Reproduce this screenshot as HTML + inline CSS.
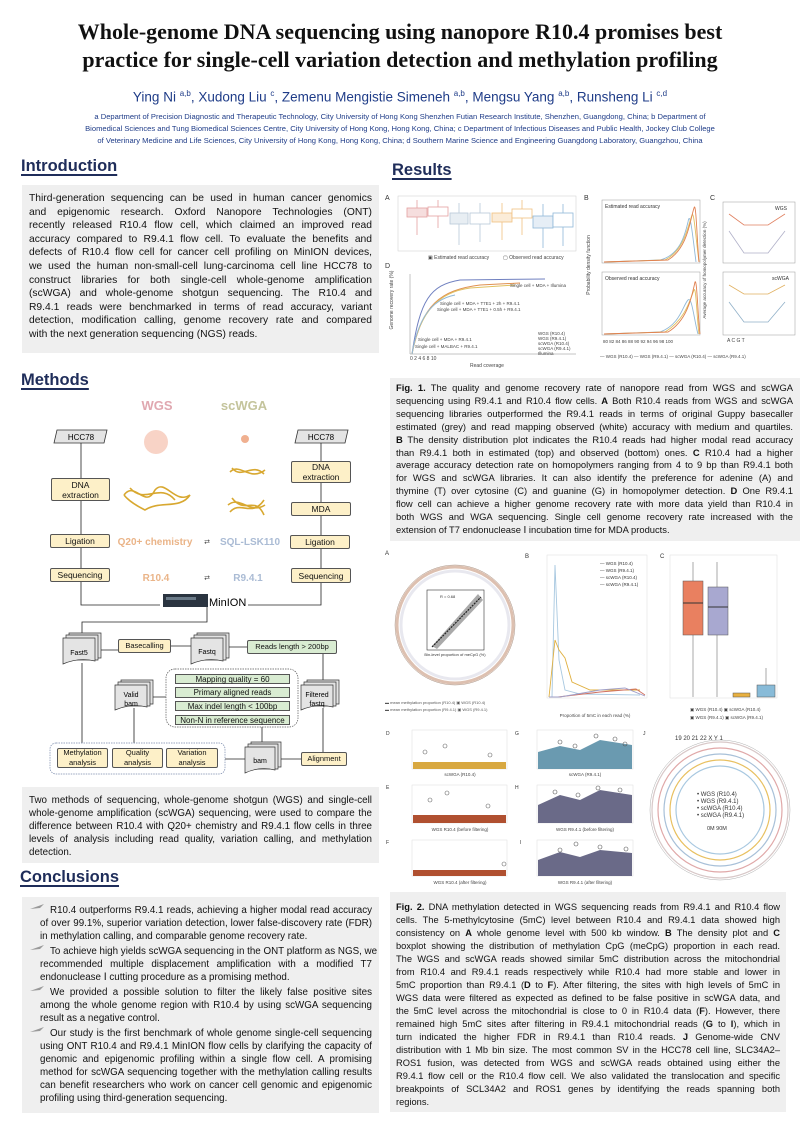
<!DOCTYPE html>
<html><head><meta charset="utf-8">
<style>
*{margin:0;padding:0;box-sizing:border-box}
body{width:800px;height:1131px;background:#fff;position:relative;overflow:hidden;font-family:"Liberation Sans",sans-serif;color:#111}
.a{position:absolute}
.title{left:0;width:800px;text-align:center;font-family:"Liberation Serif",serif;font-weight:bold;font-size:22px;line-height:28px}
.h{font-weight:bold;font-size:16.5px;color:#1f2d5a;text-decoration:underline;text-underline-offset:3px;text-decoration-thickness:1.5px}
.box{background:#efefef}
.p div{white-space:nowrap;text-align:justify;text-align-last:justify}
.p div.l{text-align-last:left}
.bx{position:absolute;background:#fdf0c8;border:1px solid #555;border-radius:2px;font-size:8.5px;text-align:center;display:flex;align-items:center;justify-content:center;line-height:10px}
.gx{position:absolute;background:#d9ecd2;border:1px solid #555;font-size:8px;text-align:center;line-height:9px}
</style></head><body>

<div class="a title" style="top:18px">Whole-genome DNA sequencing using nanopore R10.4 promises best</div>
<div class="a title" style="top:46px">practice for single-cell variation detection and methylation profiling</div>
<div class="a" style="top:89px;left:0;width:800px;text-align:center;font-size:13.5px;color:#1f3c88">Ying Ni <sup style="font-size:8px">a,b</sup>, Xudong Liu <sup style="font-size:8px">c</sup>, Zemenu Mengistie Simeneh <sup style="font-size:8px">a,b</sup>, Mengsu Yang <sup style="font-size:8px">a,b</sup>, Runsheng Li <sup style="font-size:8px">c,d</sup></div>
<div class="a" style="top:111px;left:0;width:800px;text-align:center;font-size:7.6px;line-height:12px;color:#1f3c88;white-space:nowrap">a Department of Precision Diagnostic and Therapeutic Technology, City University of Hong Kong Shenzhen Futian Research Institute, Shenzhen, Guangdong, China; b Department of<br>Biomedical Sciences and Tung Biomedical Sciences Centre, City University of Hong Kong, Hong Kong, China; c Department of Infectious Diseases and Public Health, Jockey Club College<br>of Veterinary Medicine and Life Sciences, City University of Hong Kong, Hong Kong, China; d Southern Marine Science and Engineering Guangdong Laboratory, Guangzhou, China</div>

<div class="a h" style="left:21px;top:157px">Introduction</div>
<div class="a h" style="left:392px;top:161px">Results</div>
<div class="a h" style="left:21px;top:371px">Methods</div>
<div class="a h" style="left:20px;top:868px">Conclusions</div>

<div class="a box p" style="left:22px;top:185px;width:357px;height:168px;padding:7px 7px 0 7px;font-size:10.3px;line-height:13.6px">
<div>Third-generation sequencing can be used in human cancer genomics</div>
<div>and epigenomic research. Oxford Nanopore Technologies (ONT)</div>
<div>recently released R10.4 flow cell, which claimed an improved read</div>
<div>accuracy compared to R9.4.1 flow cell. To evaluate the benefits and</div>
<div>defects of R10.4 flow cell for cancer cell profiling on MinION devices,</div>
<div>we used the human non-small-cell lung-carcinoma cell line HCC78 to</div>
<div>construct libraries for both single-cell whole-genome amplification</div>
<div>(scWGA) and whole-genome shotgun sequencing. The R10.4 and</div>
<div>R9.4.1 reads were benchmarked in terms of read accuracy, variant</div>
<div>detection, modification calling, genome recovery rate and compared</div>
<div class="l">with the next generation sequencing (NGS) reads.</div>
</div>

<div class="a box p" style="left:22px;top:787px;width:357px;height:76px;padding:7px 7px 0 7px;font-size:9.8px;line-height:13px">
<div>Two methods of sequencing, whole-genome shotgun (WGS) and single-cell</div>
<div>whole-genome amplification (scWGA) sequencing, were used to compare the</div>
<div>difference between R10.4 with Q20+ chemistry and R9.4.1 flow cells in three</div>
<div>levels of analysis including read quality, variation calling, and methylation</div>
<div class="l">detection.</div>
</div>

<div class="a box p" style="left:22px;top:897px;width:357px;height:216px;padding:7px 7px 0 18px;font-size:9.8px;line-height:13px">
<div style="text-indent:10px">R10.4 outperforms R9.4.1 reads, achieving a higher modal read accuracy</div>
<div>of over 99.1%, superior variation detection, lower false-discovery rate (FDR)</div>
<div class="l">in methylation calling, and comparable genome recovery rate.</div>
<div style="text-indent:10px;margin-top:2px">To achieve high yields scWGA sequencing in the ONT platform as NGS, we</div>
<div>recommended multiple displacement amplification with a modified T7</div>
<div class="l">endonuclease Ⅰ cutting procedure as a promising method.</div>
<div style="text-indent:10px;margin-top:2px">We provided a possible solution to filter the likely false positive sites</div>
<div>among the whole genome region with R10.4 by using scWGA sequencing</div>
<div class="l">result as a negative control.</div>
<div style="text-indent:10px;margin-top:2px">Our study is the first benchmark of whole genome single-cell sequencing</div>
<div>using ONT R10.4 and R9.4.1 MinION flow cells by clarifying the capacity of</div>
<div>genomic and epigenomic profiling within a single flow cell. A promising</div>
<div>method for scWGA sequencing together with the methylation calling results</div>
<div>can benefit researchers who work on cancer cell genomic and epigenomic</div>
<div class="l">profiling using third-generation sequencing.</div>
</div>
<svg class="a" style="left:0;top:0" width="60" height="1131">
<g fill="#999"><path d="M30 909 L44 904 L40 908 Z"/><path d="M30 950 L44 945 L40 949 Z"/><path d="M30 991 L44 986 L40 990 Z"/><path d="M30 1032 L44 1027 L40 1031 Z"/></g></svg>

<div class="a box p" style="left:390px;top:378px;width:410px;height:163px;padding:4px 7px 0 6px;font-size:9.4px;line-height:12.9px">
<div><b>Fig. 1.</b> The quality and genome recovery rate of nanopore read from WGS and scWGA</div>
<div>sequencing using R9.4.1 and R10.4 flow cells. <b>A</b> Both R10.4 reads from WGS and scWGA</div>
<div>sequencing libraries outperformed the R9.4.1 reads in terms of original Guppy basecaller</div>
<div>estimated (grey) and read mapping observed (white) accuracy with medium and quartiles.</div>
<div><b>B</b> The density distribution plot indicates the R10.4 reads had higher modal read accuracy</div>
<div>than R9.4.1 both in estimated (top) and observed (bottom) ones. <b>C</b> R10.4 had a higher</div>
<div>average accuracy detection rate on homopolymers ranging from 4 to 9 bp than R9.4.1 both</div>
<div>for WGS and scWGA libraries. It can also identify the preference for adenine (A) and</div>
<div>thymine (T) over cytosine (C) and guanine (G) in homopolymer detection. <b>D</b> One R9.4.1</div>
<div>flow cell can achieve a higher genome recovery rate with more data yield than R10.4 in</div>
<div>both WGS and WGA sequencing. Single cell genome recovery rate increased with the</div>
<div class="l">extension of T7 endonuclease Ⅰ incubation time for MDA products.</div>
</div>

<div class="a box p" style="left:390px;top:892px;width:396px;height:220px;padding:9px 6px 0 6px;font-size:9.3px;line-height:13px">
<div><b>Fig. 2.</b> DNA methylation detected in WGS sequencing reads from R9.4.1 and R10.4 flow</div>
<div>cells. The 5-methylcytosine (5mC) level between R10.4 and R9.4.1 data showed high</div>
<div>consistency on <b>A</b> whole genome level with 500 kb window. <b>B</b> The density plot and <b>C</b></div>
<div>boxplot showing the distribution of methylation CpG (meCpG) proportion in each read.</div>
<div>The WGS and scWGA reads showed similar 5mC distribution across the mitochondrial</div>
<div>from R10.4 and R9.4.1 reads respectively while R10.4 had more stable and lower in</div>
<div>5mC proportion than R9.4.1 (<b>D</b> to <b>F</b>). After filtering, the sites with high levels of 5mC in</div>
<div>WGS data were filtered as expected as defined to be false positive in scWGA data, and</div>
<div>the 5mC level across the mitochondrial is close to 0 in R10.4 data (<b>F</b>). However, there</div>
<div>remained high 5mC sites after filtering in R9.4.1 mitochondrial reads (<b>G</b> to <b>I</b>), which in</div>
<div>turn indicated the higher FDR in R9.4.1 than R10.4 reads. <b>J</b> Genome-wide CNV</div>
<div>distribution with 1 Mb bin size. The most common SV in the HCC78 cell line, SLC34A2–</div>
<div>ROS1 fusion, was detected from WGS and scWGA reads obtained using either the</div>
<div>R9.4.1 flow cell or the R10.4 flow cell. We also validated the translocation and specific</div>
<div>breakpoints of SCL34A2 and ROS1 genes by identifying the reads spanning both</div>
<div class="l">regions.</div>
</div>

<svg class="a" style="left:0;top:0" width="800" height="1131" viewBox="0 0 800 1131">
<g font-family="Liberation Sans,sans-serif">
<text x="385" y="200" font-size="7" fill="#333">A</text>
<rect x="398" y="196" width="178" height="55" fill="#fff" stroke="#ccc" stroke-width=".5"/>
<g stroke-width=".8">
<line x1="417" y1="200" x2="417" y2="235" stroke="#e4a0a0"/><rect x="407" y="208" width="20" height="9" fill="#f6dede" stroke="#e4a0a0"/>
<line x1="438" y1="200" x2="438" y2="228" stroke="#e4a0a0"/><rect x="428" y="207" width="20" height="9" fill="#fff" stroke="#e4a0a0"/>
<line x1="459" y1="203" x2="459" y2="245" stroke="#b8c8d8"/><rect x="450" y="213" width="18" height="11" fill="#e8eef3" stroke="#b8c8d8"/>
<line x1="480" y1="203" x2="480" y2="242" stroke="#b8c8d8"/><rect x="470" y="213" width="20" height="11" fill="#fff" stroke="#b8c8d8"/>
<line x1="502" y1="203" x2="502" y2="240" stroke="#f0c080"/><rect x="492" y="213" width="20" height="9" fill="#fbecd8" stroke="#f0c080"/>
<line x1="522" y1="200" x2="522" y2="235" stroke="#f0c080"/><rect x="512" y="209" width="20" height="9" fill="#fff" stroke="#f0c080"/>
<line x1="543" y1="204" x2="543" y2="248" stroke="#90b8d8"/><rect x="533" y="216" width="20" height="12" fill="#e6eef6" stroke="#90b8d8"/>
<line x1="563" y1="204" x2="563" y2="246" stroke="#90b8d8"/><rect x="553" y="213" width="20" height="14" fill="#fff" stroke="#90b8d8"/>
</g>
<text x="428" y="259" font-size="5" fill="#444">▣ Estimated read accuracy</text>
<text x="503" y="259" font-size="5" fill="#444">▢ Observed read accuracy</text>
<text x="385" y="268" font-size="7" fill="#333">D</text>
<text x="393" y="300" font-size="5" fill="#444" transform="rotate(-90 393 300)" text-anchor="middle">Genome recovery rate (%)</text>
<line x1="410" y1="274" x2="410" y2="354" stroke="#888" stroke-width=".5"/>
<line x1="410" y1="354" x2="576" y2="354" stroke="#888" stroke-width=".5"/>
<path d="M412 354 C420 300,430 285,460 280 L545 279" fill="none" stroke="#7080c0" stroke-width="1"/>
<path d="M412 354 C422 305,440 290,480 285 L520 283" fill="none" stroke="#e09050" stroke-width="1"/>
<path d="M412 354 C420 310,440 292,470 288 L515 285" fill="none" stroke="#e0c060" stroke-width="1"/>
<path d="M412 354 C418 320,430 300,455 295" fill="none" stroke="#90b8d8" stroke-width="1"/>
<text x="510" y="287" font-size="4.5" fill="#444">Single cell + MDA + Illumina</text>
<text x="440" y="305" font-size="4.5" fill="#444">Single cell + MDA + T7E1 + 2h + R9.4.1</text>
<text x="437" y="311" font-size="4.5" fill="#444">Single cell + MDA + T7E1 + 0.5h + R9.4.1</text>
<text x="418" y="341" font-size="4.5" fill="#444">Single cell + MDA + R9.4.1</text>
<text x="415" y="348" font-size="4.5" fill="#444">Single cell + MALBAC + R9.4.1</text>
<text x="538" y="335" font-size="4.5" fill="#444">WGS (R10.4)</text><text x="538" y="340" font-size="4.5" fill="#444">WGS (R9.4.1)</text><text x="538" y="345" font-size="4.5" fill="#444">scWGA (R10.4)</text><text x="538" y="350" font-size="4.5" fill="#444">scWGA (R9.4.1)</text><text x="538" y="355" font-size="4.5" fill="#444">Illumina</text>
<text x="410" y="360" font-size="5" fill="#444">0        2        4        6        8       10</text>
<text x="470" y="367" font-size="5" fill="#444">Read coverage</text>

<text x="584" y="200" font-size="7" fill="#333">B</text>
<rect x="602" y="200" width="98" height="63" fill="#fff" stroke="#999" stroke-width=".5"/>
<rect x="602" y="272" width="98" height="63" fill="#fff" stroke="#999" stroke-width=".5"/>
<text x="605" y="208" font-size="5" fill="#333">Estimated read accuracy</text>
<text x="605" y="280" font-size="5" fill="#333">Observed read accuracy</text>
<g fill="none" stroke-width=".9">
<path d="M604 262 L660 260 C680 255,685 235,688 222 C690 210,692 230,696 262" stroke="#90b8d8"/>
<path d="M604 262 L665 260 C685 250,688 225,692 215 C694 210,696 240,699 262" stroke="#e0c060"/>
<path d="M604 262 L668 260 C688 248,690 220,694 208 C696 200,697 240,699 262" stroke="#e08050"/>
<path d="M604 334 L660 332 C680 325,683 305,688 300 C692 296,694 320,698 334" stroke="#90b8d8"/>
<path d="M604 334 L665 332 C685 320,690 300,694 290 C696 285,697 320,699 334" stroke="#e0c060"/>
<path d="M604 334 L668 332 C688 320,692 295,695 282 C697 278,698 320,700 334" stroke="#e08050"/>
</g>
<text x="590" y="265" font-size="5" fill="#444" transform="rotate(-90 590 265)" text-anchor="middle">Probability density function</text>
<text x="603" y="343" font-size="4.5" fill="#444">80 82 84 86 88 90 92 94 96 98 100</text>
<text x="600" y="358" font-size="4.5" fill="#444">— WGS (R10.4)    — WGS (R9.4.1)    — scWGA (R10.4)    — scWGA (R9.4.1)</text>

<text x="710" y="200" font-size="7" fill="#333">C</text>
<rect x="723" y="202" width="72" height="61" fill="#fff" stroke="#999" stroke-width=".5"/>
<rect x="723" y="272" width="72" height="63" fill="#fff" stroke="#999" stroke-width=".5"/>
<text x="775" y="210" font-size="5" fill="#333">WGS</text><text x="772" y="280" font-size="5" fill="#333">scWGA</text>
<polyline points="729,214 744,225 768,225 785,214" fill="none" stroke="#e08060" stroke-width=".8"/>
<polyline points="729,231 744,253 768,253 785,231" fill="none" stroke="#b0b0c8" stroke-width=".8"/>
<polyline points="729,285 744,294 768,294 785,285" fill="none" stroke="#e0b060" stroke-width=".8"/>
<polyline points="729,302 744,322 768,322 785,302" fill="none" stroke="#90b0c8" stroke-width=".8"/>
<text x="706" y="270" font-size="4.5" fill="#444" transform="rotate(-90 706 270)" text-anchor="middle">Average accuracy of homopolymer detection (%)</text>
<text x="727" y="342" font-size="5" fill="#444">A       C       G       T</text>
</g>

<g font-family="Liberation Sans,sans-serif">
<text x="385" y="555" font-size="6" fill="#333">A</text>
<circle cx="455" cy="625" r="58" fill="none" stroke="#ddc0b0" stroke-width="3"/>
<circle cx="455" cy="625" r="54" fill="none" stroke="#e8e8ef" stroke-width="3"/>
<circle cx="455" cy="625" r="60" fill="none" stroke="#a89080" stroke-width=".5"/>
<rect x="427" y="590" width="57" height="60" fill="#fff" stroke="#333" stroke-width=".6"/>
<path d="M432 646 L478 594 L483 600 L437 649 Z" fill="#aaa"/>
<line x1="432" y1="647" x2="481" y2="597" stroke="#222" stroke-width="1.2" stroke-dasharray="2,1"/>
<text x="440" y="598" font-size="4" fill="#333">R = 0.68</text>
<text x="455" y="656" font-size="4" fill="#333" text-anchor="middle">Bin-level proportion of meCpG (%)</text>
<text x="385" y="704" font-size="4" fill="#555">▬ mean methylation proportion (R10.4)  ▣ WGS (R10.4)</text>
<text x="385" y="711" font-size="4" fill="#555">▬ mean methylation proportion (R9.4.1)  ▣ WGS (R9.4.1)</text>

<text x="525" y="558" font-size="6" fill="#333">B</text>
<rect x="547" y="555" width="100" height="143" fill="#fff" stroke="#ddd" stroke-width=".5"/>
<g fill="none" stroke-width=".9">
<path d="M549 697 L552 697 L555 565 L559 660 L565 690 L580 694 L640 695" stroke="#a8c8e0"/>
<path d="M549 697 L555 640 L559 650 L565 658 L572 682 L590 690 L640 690" stroke="#e0b040"/>
<path d="M549 697 L552 697 L558 697 L600 692 L636 689 L645 695" stroke="#d07060"/>
<path d="M549 697 L560 697 L600 690 L625 688 L645 696" stroke="#a0a0c8"/>
</g>
<text x="600" y="565" font-size="4.5" fill="#333">— WGS (R10.4)</text><text x="600" y="572" font-size="4.5" fill="#333">— WGS (R9.4.1)</text><text x="600" y="579" font-size="4.5" fill="#333">— scWGA (R10.4)</text><text x="600" y="586" font-size="4.5" fill="#333">— scWGA (R9.4.1)</text>
<text x="595" y="717" font-size="4.5" fill="#444" text-anchor="middle">Proportion of 5mC in each read (%)</text>

<text x="660" y="558" font-size="6" fill="#333">C</text>
<rect x="670" y="555" width="107" height="143" fill="#fff" stroke="#ddd" stroke-width=".5"/>
<line x1="693" y1="562" x2="693" y2="697" stroke="#555" stroke-width=".5"/>
<rect x="683" y="581" width="20" height="54" fill="#e98060" stroke="#555" stroke-width=".5"/>
<line x1="683" y1="603" x2="703" y2="603" stroke="#333"/>
<line x1="717" y1="562" x2="717" y2="697" stroke="#555" stroke-width=".5"/>
<rect x="708" y="587" width="20" height="48" fill="#a8a8d0" stroke="#555" stroke-width=".5"/>
<line x1="708" y1="607" x2="728" y2="607" stroke="#333"/>
<rect x="733" y="693" width="17" height="4" fill="#e8b040" stroke="#555" stroke-width=".5"/>
<line x1="766" y1="668" x2="766" y2="686" stroke="#555" stroke-width=".5"/>
<rect x="757" y="685" width="18" height="12" fill="#88bbd8" stroke="#555" stroke-width=".5"/>
<text x="690" y="711" font-size="4.5" fill="#444">▣ WGS (R10.4)  ▣ scWGA (R10.4)</text>
<text x="690" y="719" font-size="4.5" fill="#444">▣ WGS (R9.4.1)  ▣ scWGA (R9.4.1)</text>

<g stroke="#ddd" stroke-width=".5" fill="#fff">
<rect x="412" y="730" width="95" height="39"/><rect x="412" y="785" width="95" height="38"/><rect x="412" y="840" width="95" height="36"/>
<rect x="537" y="730" width="96" height="39"/><rect x="537" y="785" width="96" height="38"/><rect x="537" y="840" width="96" height="36"/>
</g>
<rect x="413" y="762" width="93" height="7" fill="#d8a840"/>
<rect x="413" y="815" width="93" height="8" fill="#b05030"/>
<rect x="413" y="870" width="93" height="6" fill="#b05030"/>
<g fill="none" stroke="#666" stroke-width=".6">
<circle cx="425" cy="752" r="2"/><circle cx="445" cy="746" r="2"/><circle cx="490" cy="755" r="2"/><circle cx="430" cy="800" r="2"/><circle cx="447" cy="793" r="2"/><circle cx="488" cy="806" r="2"/><circle cx="504" cy="864" r="2"/>
</g>
<path d="M538 769 L538 752 L560 746 L580 750 L600 740 L632 745 L632 769 Z" fill="#6a9ab0"/>
<path d="M538 823 L538 805 L560 795 L580 800 L600 790 L632 795 L632 823 Z" fill="#6a6a88"/>
<path d="M538 876 L538 860 L560 852 L580 857 L600 850 L632 853 L632 876 Z" fill="#6a6a88"/>
<g fill="none" stroke="#555" stroke-width=".6">
<circle cx="560" cy="742" r="2"/><circle cx="575" cy="746" r="2"/><circle cx="596" cy="736" r="2"/><circle cx="615" cy="739" r="2"/><circle cx="625" cy="744" r="2"/>
<circle cx="555" cy="792" r="2"/><circle cx="578" cy="795" r="2"/><circle cx="598" cy="788" r="2"/><circle cx="620" cy="790" r="2"/>
<circle cx="560" cy="850" r="2"/><circle cx="576" cy="844" r="2"/><circle cx="600" cy="847" r="2"/><circle cx="626" cy="849" r="2"/>
</g>
<text x="386" y="735" font-size="5" fill="#333">D</text><text x="386" y="789" font-size="5" fill="#333">E</text><text x="386" y="844" font-size="5" fill="#333">F</text>
<text x="515" y="735" font-size="5" fill="#333">G</text><text x="515" y="789" font-size="5" fill="#333">H</text><text x="520" y="844" font-size="5" fill="#333">I</text>
<text x="460" y="776" font-size="4.5" fill="#444" text-anchor="middle">scWGA (R10.4)</text>
<text x="460" y="831" font-size="4.5" fill="#444" text-anchor="middle">WGS R10.4 (before filtering)</text>
<text x="460" y="884" font-size="4.5" fill="#444" text-anchor="middle">WGS R10.4 (after filtering)</text>
<text x="585" y="776" font-size="4.5" fill="#444" text-anchor="middle">scWGA (R9.4.1)</text>
<text x="585" y="831" font-size="4.5" fill="#444" text-anchor="middle">WGS R9.4.1 (before filtering)</text>
<text x="585" y="884" font-size="4.5" fill="#444" text-anchor="middle">WGS R9.4.1 (after filtering)</text>

<text x="643" y="735" font-size="5" fill="#333">J</text>
<g fill="none" stroke-width="1.2">
<circle cx="720" cy="810" r="68" stroke="#d8c8c8"/>
<circle cx="720" cy="810" r="62" stroke="#e0a8a8"/>
<circle cx="720" cy="810" r="56" stroke="#a8c0d8"/>
<circle cx="720" cy="810" r="50" stroke="#e8c060"/>
<circle cx="720" cy="810" r="44" stroke="#a8c8e0"/>
<circle cx="720" cy="810" r="70" stroke="#999" stroke-width=".4"/>
</g>
<text x="697" y="796" font-size="6" fill="#333">• WGS (R10.4)</text>
<text x="697" y="803" font-size="6" fill="#333">• WGS (R9.4.1)</text>
<text x="697" y="810" font-size="6" fill="#333">• scWGA (R10.4)</text>
<text x="697" y="817" font-size="6" fill="#333">• scWGA (R9.4.1)</text>
<text x="707" y="830" font-size="5.5" fill="#333">0M   90M</text>
<text x="675" y="740" font-size="6" fill="#333">19 20 21 22  X  Y     1</text>
</g>

<g font-family="Liberation Sans,sans-serif">
<text x="157" y="410" font-size="13" font-weight="bold" fill="#e0a8b0" text-anchor="middle">WGS</text>
<text x="244" y="410" font-size="13" font-weight="bold" fill="#c4c49c" text-anchor="middle">scWGA</text>
<circle cx="156" cy="442" r="12" fill="#f6c8b8" opacity=".8"/>
<circle cx="245" cy="439" r="4" fill="#f0b090"/>
<g fill="none" stroke="#d8a830" stroke-width="1.6">
<path d="M124 495 C135 480,145 510,155 490 C165 478,175 505,190 495 C180 510,160 500,145 510 C135 505,128 500,124 495"/>
<path d="M130 488 C145 505,160 482,175 500"/>
<path d="M230 472 C240 462,250 482,265 470"/><path d="M232 468 C242 480,252 462,264 474"/>
<path d="M228 505 C240 495,250 515,265 505"/><path d="M230 512 C240 500,252 518,264 500"/><path d="M232 498 C245 515,255 495,264 515"/>
</g>
<text x="155" y="545" font-size="10" font-weight="bold" fill="#eab488" text-anchor="middle">Q20+ chemistry</text>
<text x="207" y="544" font-size="7" fill="#444" text-anchor="middle">⇄</text>
<text x="250" y="545" font-size="10" font-weight="bold" fill="#aabbd4" text-anchor="middle">SQL-LSK110</text>
<text x="156" y="581" font-size="10" font-weight="bold" fill="#eab488" text-anchor="middle">R10.4</text>
<text x="207" y="580" font-size="7" fill="#444" text-anchor="middle">⇄</text>
<text x="248" y="581" font-size="10" font-weight="bold" fill="#aabbd4" text-anchor="middle">R9.4.1</text>
<polygon points="57,430 107,430 104,443 54,443" fill="#e4e4e4" stroke="#333" stroke-width=".8"/>
<text x="81" y="440" font-size="8" text-anchor="middle">HCC78</text>
<polygon points="298,430 348,430 345,443 295,443" fill="#e4e4e4" stroke="#333" stroke-width=".8"/>
<text x="321" y="440" font-size="8" text-anchor="middle">HCC78</text>
<g stroke="#222" stroke-width=".8" fill="none">
<path d="M81 443 V478 M81 501 V534 M81 548 V568 M81 582 V605 H160"/>
<path d="M321 443 V461 M321 483 V502 M321 516 V535 M321 549 V568 M321 583 V605 H248"/>
<path d="M207 607 V622 H82 V637"/>
<path d="M97 650 H118 M171 646 H191 M226 647 H247 M323 654 V683 M323 708 V752 M301 759 H280 M245 759 H225 M82 663 V743 M134 708 V743 M166 697 H150 M262 745 V727"/>
</g>
<rect x="163" y="594" width="45" height="13" fill="#2a3440"/>
<rect x="166" y="597" width="30" height="3" fill="#6a7a88"/>
<text x="209" y="606" font-size="11">MinION</text>
<g fill="#e4e4e4" stroke="#333" stroke-width=".7">
<path d="M69 633 H101 V658 H69 Z"/><path d="M66 635 H98 V660 H66 Z"/><path d="M63 638 H95 V661 Q79 657 63 664 Z"/>
<path d="M197 633 H229 V658 H197 Z"/><path d="M194 635 H226 V660 H194 Z"/><path d="M191 638 H223 V661 Q207 657 191 664 Z"/>
<path d="M121 680 H153 V704 H121 Z"/><path d="M118 682 H150 V706 H118 Z"/><path d="M115 685 H147 V707 Q131 703 115 710 Z"/>
<path d="M307 680 H339 V704 H307 Z"/><path d="M304 682 H336 V706 H304 Z"/><path d="M301 685 H333 V707 Q317 703 301 710 Z"/>
<path d="M251 742 H281 V767 H251 Z"/><path d="M248 744 H278 V769 H248 Z"/><path d="M245 747 H275 V770 Q260 766 245 773 Z"/>
</g>
<text x="79" y="655" font-size="7" text-anchor="middle">Fast5</text>
<text x="207" y="654" font-size="7" text-anchor="middle">Fastq</text>
<text x="131" y="697" font-size="7" text-anchor="middle">Valid</text><text x="131" y="706" font-size="7" text-anchor="middle">bam</text>
<text x="317" y="697" font-size="7" text-anchor="middle">Filtered</text><text x="317" y="706" font-size="7" text-anchor="middle">fastq</text>
<text x="260" y="763" font-size="7" text-anchor="middle">bam</text>
<rect x="166" y="669" width="132" height="58" rx="9" fill="none" stroke="#555" stroke-width=".7" stroke-dasharray="1.5,1"/>
<rect x="50" y="743" width="175" height="31" rx="6" fill="none" stroke="#7788aa" stroke-width=".7" stroke-dasharray="1.5,1"/>
</g>
</svg>
<div class="bx" style="left:51px;top:478px;width:59px;height:23px">DNA<br>extraction</div>
<div class="bx" style="left:291px;top:461px;width:60px;height:22px">DNA<br>extraction</div>
<div class="bx" style="left:291px;top:502px;width:60px;height:14px">MDA</div>
<div class="bx" style="left:50px;top:534px;width:60px;height:14px">Ligation</div>
<div class="bx" style="left:290px;top:535px;width:60px;height:14px">Ligation</div>
<div class="bx" style="left:50px;top:568px;width:60px;height:14px">Sequencing</div>
<div class="bx" style="left:291px;top:568px;width:60px;height:15px">Sequencing</div>
<div class="bx" style="left:118px;top:639px;width:53px;height:14px;font-size:7.5px">Basecalling</div>
<div class="bx" style="left:247px;top:640px;width:90px;height:14px;font-size:7.5px;background:#d9ecd2">Reads length &gt; 200bp</div>
<div class="gx" style="left:175px;top:674px;width:115px;height:10px">Mapping quality = 60</div>
<div class="gx" style="left:175px;top:687px;width:115px;height:11px">Primary aligned reads</div>
<div class="gx" style="left:175px;top:701px;width:115px;height:10px">Max indel length &lt; 100bp</div>
<div class="gx" style="left:175px;top:715px;width:115px;height:10px">Non-N in reference sequence</div>
<div class="bx" style="left:57px;top:748px;width:51px;height:20px;font-size:7.5px">Methylation<br>analysis</div>
<div class="bx" style="left:112px;top:748px;width:51px;height:20px;font-size:7.5px">Quality<br>analysis</div>
<div class="bx" style="left:166px;top:748px;width:52px;height:20px;font-size:7.5px">Variation<br>analysis</div>
<div class="bx" style="left:301px;top:752px;width:46px;height:14px;font-size:7.5px">Alignment</div>
</body></html>
